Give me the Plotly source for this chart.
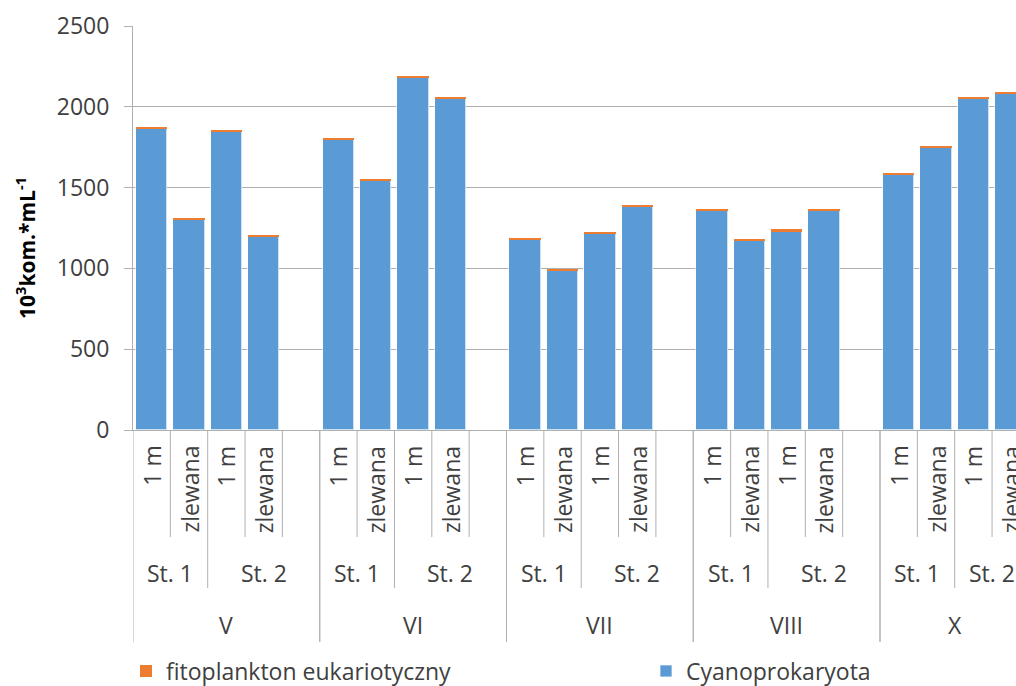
import plotly.graph_objects as go

# Category hierarchy: month -> station -> depth
months = ["V", "VI", "VII", "VIII", "X"]
stations = ["St. 1", "St. 2"]
depths = ["1 m", "zlewana"]

# Cell counts (10^3 cells per mL), ordered month / station / depth
cyanoprokaryota = [1863, 1300, 1846, 1200,
                   1799, 1545, 2183, 2050,
                   1180, 984, 1219, 1378,
                   1354, 1171, 1228, 1354,
                   1584, 1749, 2050, 2083]
eukariotyczny = [10, 14, 9, 7,
                 8, 8, 8, 11,
                 8, 8, 8, 14,
                 16, 9, 14, 16,
                 8, 8, 11, 9]

y_ticks = [0, 500, 1000, 1500, 2000, 2500]

# ---- figure geometry ----
FIG_W, FIG_H = 1016, 686
M_L, M_R, M_T, M_B = 133, 0, 26, 256
PLOT_W = FIG_W - M_L - M_R
PLOT_H = FIG_H - M_T - M_B
SLOT_PX = 37.35          # width of one category slot
GRID = "#B0B0B0"
TXT = "#404040"
FONT = "Open Sans"
FS = 23


def py(px_y):
    """pixel row -> paper y"""
    return (FIG_H - M_B - px_y) / PLOT_H


def px(px_x):
    """pixel column -> paper x"""
    return (px_x - M_L) / PLOT_W


# slot layout: 4 bars per month followed by one blank slot (none after the last month)
n_months = len(months)
slots_per_group = [len(stations) * len(depths) + (1 if g < n_months - 1 else 0)
                   for g in range(n_months)]
group_start = []
pos = -0.5
for n in slots_per_group:
    group_start.append(pos)
    pos += n

x_pos, depth_lab = [], []
for g in range(n_months):
    for s in range(len(stations)):
        for d in range(len(depths)):
            x_pos.append(group_start[g] + 0.5 + s * len(depths) + d)
            depth_lab.append(depths[d])

fig = go.Figure()
fig.add_trace(go.Bar(
    x=x_pos, y=cyanoprokaryota, name="Cyanoprokaryota",
    marker=dict(color="#5B9BD5", line=dict(color="rgba(255,255,255,0.7)", width=1)),
    width=0.84, legend="legend2", showlegend=True,
))
fig.add_trace(go.Bar(
    x=x_pos, y=eukariotyczny, name="fitoplankton eukariotyczny",
    marker=dict(color="#ED7D31", line=dict(width=0)),
    width=0.84, legend="legend", showlegend=True,
))

shapes = []
annotations = []
ROW_DEPTH, ROW_STATION, ROW_MONTH = 537, 588, 642

for g, m in enumerate(months):
    start = group_start[g]
    n = slots_per_group[g]
    for k in range(n + 1):
        if k == 0 or k == n:
            bottom = ROW_MONTH
        elif k == len(depths):
            bottom = ROW_STATION
        else:
            bottom = ROW_DEPTH
        shapes.append(dict(type="line", xref="x", yref="paper",
                           x0=start + k, x1=start + k, y0=0, y1=py(bottom),
                           line=dict(color=GRID, width=1)))
    # station labels
    st_edges = [start, start + len(depths), start + n]
    for s, st in enumerate(stations):
        annotations.append(dict(xref="x", yref="paper",
                                x=(st_edges[s] + st_edges[s + 1]) / 2, y=py(573),
                                text=st, showarrow=False, xanchor="center", yanchor="middle",
                                font=dict(family=FONT, size=FS, color=TXT)))
    # month label
    annotations.append(dict(xref="x", yref="paper", x=start + n / 2, y=py(625),
                            text=m, showarrow=False, xanchor="center", yanchor="middle",
                            font=dict(family=FONT, size=FS, color=TXT)))

# depth labels, rotated
for xp, lab in zip(x_pos, depth_lab):
    annotations.append(dict(xref="x", yref="paper", x=xp, y=py(444),
                            text=lab, showarrow=False, textangle=-90,
                            xanchor="center", yanchor="top",
                            font=dict(family=FONT, size=FS, color=TXT)))

# y-axis title
annotations.append(dict(xref="paper", yref="paper", x=px(25), y=py(248),
                        text="<b>10<sup>3</sup>kom.*mL<sup>-1</sup></b>",
                        showarrow=False, textangle=-90,
                        xanchor="center", yanchor="middle",
                        font=dict(family=FONT, size=21, color="#000000")))

x_max = -0.5 + PLOT_W / SLOT_PX

legend_common = dict(orientation="h", yanchor="middle", y=py(671), xanchor="left",
                     bgcolor="rgba(0,0,0,0)",
                     font=dict(family=FONT, size=FS, color=TXT))

fig.update_layout(
    width=FIG_W, height=FIG_H,
    margin=dict(l=M_L, r=M_R, t=M_T, b=M_B, pad=0, autoexpand=False),
    barmode="stack",
    bargap=0,
    showlegend=True,
    plot_bgcolor="white", paper_bgcolor="white",
    font=dict(family=FONT, size=FS, color=TXT),
    xaxis=dict(range=[-0.5, x_max], showticklabels=False, ticks="",
               showgrid=False, zeroline=False,
               showline=True, linecolor=GRID, linewidth=1),
    yaxis=dict(range=[0, 2500], tickvals=y_ticks, showgrid=True, gridcolor=GRID,
               gridwidth=1, zeroline=False, showline=True, linecolor=GRID, linewidth=1,
               ticks="outside", ticklen=8, tickcolor=GRID, ticklabelstandoff=10,
               tickfont=dict(family=FONT, size=FS, color=TXT)),
    legend=dict(x=px(126), **legend_common),
    legend2=dict(x=px(646), **legend_common),
    shapes=shapes,
    annotations=annotations,
)

fig.write_html("out.html")
